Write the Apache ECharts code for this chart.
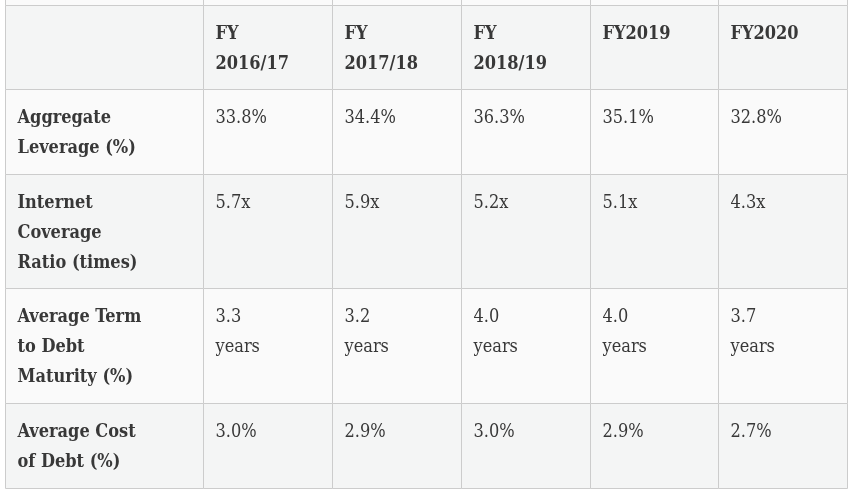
<!DOCTYPE html>
<html>
<head>
<meta charset="utf-8">
<script src="https://cdn.jsdelivr.net/npm/echarts@6/dist/echarts.min.js"></script>
<style>
html,body{margin:0;padding:0;background:#ffffff;}
#main{width:851px;height:491px;}
</style>
</head>
<body>
<div id="main"></div>
<script>
// ---- data ----
var headers = ['FY\n2016/17', 'FY\n2017/18', 'FY\n2018/19', 'FY2019', 'FY2020'];
var rowLabels = ['Aggregate\nLeverage (%)', 'Internet\nCoverage\nRatio (times)', 'Average Term\nto Debt\nMaturity (%)', 'Average Cost\nof Debt (%)'];
var aggregateLeverage = [33.8, 34.4, 36.3, 35.1, 32.8];
var coverageRatio = [5.7, 5.9, 5.2, 5.1, 4.3];
var termToMaturity = [3.3, 3.2, 4.0, 4.0, 3.7];
var costOfDebt = [3.0, 2.9, 3.0, 2.9, 2.7];

// ---- layout (styling, not data) ----
var colWidths = [198, 129, 129, 129, 128, 129];
var rowHeights = [84, 85, 114, 115, 85];
var topStub = 20;
var bgs = ['#f4f5f5', '#fafafa', '#f4f5f5', '#fafafa', '#f4f5f5'];
var FONT = "'DejaVu Serif Condensed', 'DejaVu Serif', serif";

var rowsText = [
  [''].concat(headers),
  [rowLabels[0]].concat(aggregateLeverage.map(function (v) { return v.toFixed(1) + '%'; })),
  [rowLabels[1]].concat(coverageRatio.map(function (v) { return v.toFixed(1) + 'x'; })),
  [rowLabels[2]].concat(termToMaturity.map(function (v) { return v.toFixed(1) + '\nyears'; })),
  [rowLabels[3]].concat(costOfDebt.map(function (v) { return v.toFixed(1) + '%'; }))
];

var totalW = colWidths.reduce(function (a, b) { return a + b; }, 0);
var totalH = rowHeights.reduce(function (a, b) { return a + b; }, 0);

var cells = [];
var texts = [];
var xEdges = [0];
colWidths.forEach(function (w, i) { xEdges.push(xEdges[i] + w); });
var yEdges = [0];
rowHeights.forEach(function (h, i) { yEdges.push(yEdges[i] + h); });

// stub row above (cut off in original)
for (var c = 0; c < colWidths.length; c++) {
  cells.push([xEdges[c], -topStub, xEdges[c + 1], 0, -1, c]);
  texts.push('');
}
for (var r = 0; r < rowHeights.length; r++) {
  for (var c2 = 0; c2 < colWidths.length; c2++) {
    cells.push([xEdges[c2], yEdges[r], xEdges[c2 + 1], yEdges[r + 1], r, c2]);
    texts.push(rowsText[r][c2]);
  }
}

var chart = echarts.init(document.getElementById('main'), null, { renderer: 'canvas' });
chart.setOption({
  animation: false,
  grid: { left: 5, top: 5, width: totalW, height: totalH },
  xAxis: { type: 'value', min: 0, max: totalW, show: false },
  yAxis: { type: 'value', min: 0, max: totalH, inverse: true, show: false },
  series: [{
    type: 'custom',
    coordinateSystem: 'cartesian2d',
    clip: false,
    silent: true,
    data: cells,
    renderItem: function (params, api) {
      var idx = params.dataIndex;
      var p0 = api.coord([api.value(0), api.value(1)]);
      var p1 = api.coord([api.value(2), api.value(3)]);
      var row = api.value(4);
      var col = api.value(5);
      var x0 = Math.round(p0[0]) + 0.5, y0 = Math.round(p0[1]) + 0.5;
      var x1 = Math.round(p1[0]) + 0.5, y1 = Math.round(p1[1]) + 0.5;
      var bold = (row === 0) || (col === 0);
      return {
        type: 'group',
        children: [{
          type: 'rect',
          shape: { x: x0, y: y0, width: x1 - x0, height: y1 - y0 },
          style: { fill: row < 0 ? '#fafafa' : bgs[row], stroke: '#cccccc', lineWidth: 1 }
        }, {
          type: 'text',
          x: x0 + (col === 0 ? 12 : 12),
          y: y0 + 14,
          style: {
            text: texts[idx],
            fill: '#383838',
            font: (bold ? 'bold ' : '') + '18px ' + FONT,
            lineHeight: 30,
            verticalAlign: 'top',
            align: 'left'
          }
        }]
      };
    }
  }]
});
</script>
</body>
</html>
